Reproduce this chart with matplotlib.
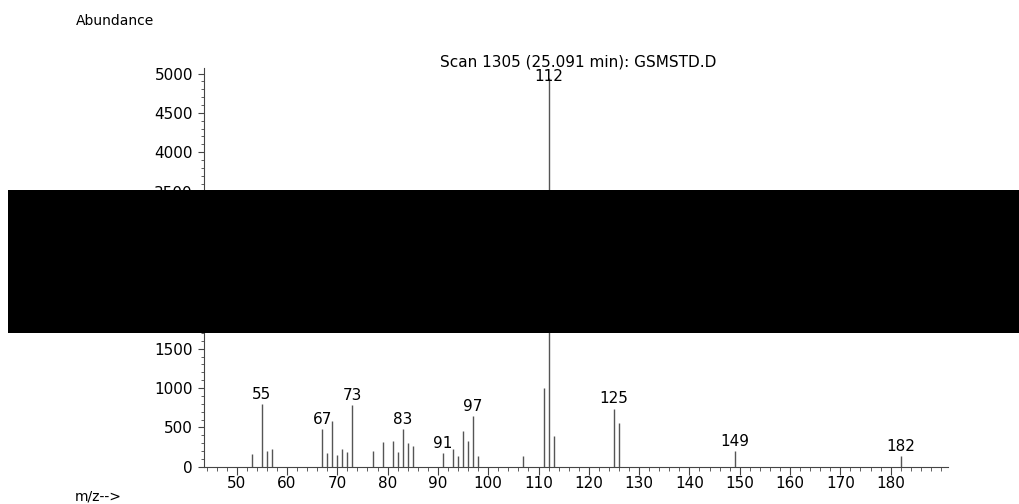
import matplotlib
matplotlib.use('Agg')
import matplotlib.pyplot as plt
from matplotlib.patches import Rectangle
from matplotlib.ticker import MultipleLocator

plt.rcParams.update({'font.family': ['DejaVu Sans'], 'font.size': 11})

# mass spectrum, scan 1305
mz = [53, 55, 56, 57, 67, 68, 69, 70, 71, 72, 73, 77, 79, 81, 82, 83, 84, 85,
      91, 93, 94, 95, 96, 97, 98, 107, 111, 112, 113, 125, 126, 149, 182]
abund = [160, 800, 200, 225, 480, 175, 585, 150, 225, 190, 785, 200, 320, 325, 190, 480, 300, 265,
         170, 230, 140, 460, 330, 650, 135, 130, 1000, 4950, 390, 740, 560, 200, 130]
labeled = [55, 67, 73, 83, 91, 97, 112, 125, 149, 182]
title = 'Scan 1305 (25.091 min): GSMSTD.D'

W, H = 1019, 504
fig = plt.figure(figsize=(W/100, H/100), dpi=100)
ax = fig.add_axes([204/W, 37.3/H, 744/W, 398.7/H])

ax.vlines(mz, 0, abund, color='#555555', lw=1.0)
for m, a in zip(mz, abund):
    if m in labeled:
        dy = -4.5 if m == 112 else 1.5   # base peak label sits over its line, just under the title
        ax.annotate(str(m), (m, a), xytext=(0, dy), textcoords='offset points',
                    ha='center', va='bottom', fontsize=11)

ax.set_xlim(43.5, 191.4)
ax.set_ylim(0, 5071)
for s in ['top', 'right']:
    ax.spines[s].set_visible(False)
for s in ['left', 'bottom']:
    ax.spines[s].set_color('#444444')
    ax.spines[s].set_linewidth(0.8)

ax.set_xticks(range(50, 190, 10))
ax.xaxis.set_minor_locator(MultipleLocator(2))
ax.yaxis.set_major_locator(MultipleLocator(500))
ax.yaxis.set_minor_locator(MultipleLocator(100))
ax.tick_params(axis='x', which='major', length=6, width=0.8, color='#444444', labelsize=11, pad=1)
ax.tick_params(axis='x', which='minor', length=3, width=0.6, color='#444444')
ax.tick_params(axis='y', which='major', length=4, width=0.8, color='#444444', labelsize=11, pad=4)
ax.tick_params(axis='y', which='minor', length=2, width=0.6, color='#444444')

fig.text(578/W, 1 - 62/H, title, ha='center', va='center', fontsize=11)
fig.text(76/W, 1 - 21/H, 'Abundance', ha='left', va='center', fontsize=10)
fig.text(75/W, 1 - 496/H, 'm/z-->', ha='left', va='center', fontsize=10)

# redaction bar present in the source image
fig.patches.append(Rectangle((8/W, 1 - 332.7/H), 1 - 8/W, 142.7/H,
                             transform=fig.transFigure, facecolor='black',
                             edgecolor='none', zorder=10))

fig.savefig('out.png', dpi=100)
